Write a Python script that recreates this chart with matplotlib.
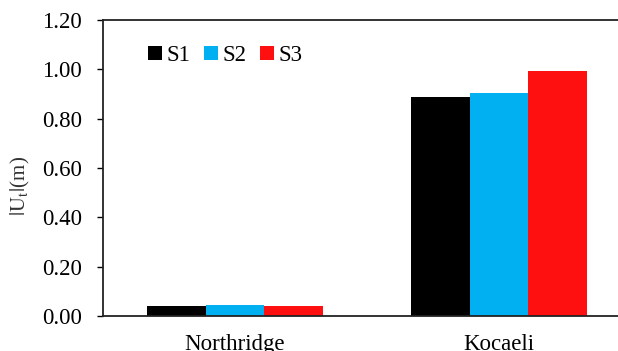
import numpy as np
import matplotlib.pyplot as plt

# peak displacement per record and scheme
events = ["Northridge", "Kocaeli"]
series = ["S1", "S2", "S3"]
s1_vals = [0.041, 0.886]
s2_vals = [0.046, 0.905]
s3_vals = [0.041, 0.992]
colors = ["#000000", "#00B0F0", "#FF1010"]

plt.rcParams['font.family'] = ['Liberation Serif', 'DejaVu Serif']
plt.rcParams['mathtext.fontset'] = 'stix'

fig = plt.figure(figsize=(6.18, 3.51), dpi=100)
ax = fig.add_axes([103 / 618, 35 / 351, 528 / 618, 296 / 351])

x = np.arange(len(events))
width = 0.223
for i, (name, vals) in enumerate(zip(series, [s1_vals, s2_vals, s3_vals])):
    ax.bar(x + (i - 1) * width, vals, width, color=colors[i], label=name)

ax.set_xlim(-0.5, 1.5)
ax.set_ylim(0, 1.2)
ax.set_yticks(np.arange(0, 1.21, 0.2))
ax.set_yticklabels([f"{v:.2f}" for v in np.arange(0, 1.21, 0.2)])
ax.set_xticks(x)
ax.set_xticklabels(events)
ax.tick_params(axis='x', length=0, pad=13, labelsize=16.5)
ax.tick_params(axis='y', direction='out', length=4, width=1, pad=11, labelsize=16.5)

for side in ['left', 'bottom', 'top', 'right']:
    ax.spines[side].set_linewidth(1.3)
    ax.spines[side].set_color('#222222')

ax.set_ylabel(r"$|\mathrm{U_t}|$(m)", fontsize=15, color='#333333')
ax.yaxis.set_label_coords(-0.134, 0.44)

ax.legend(loc='upper left', bbox_to_anchor=(0.047, 0.985), ncol=3, frameon=False,
          fontsize=16.5, handlelength=0.6, handleheight=0.6, handletextpad=0.2,
          columnspacing=0.6)

fig.savefig("out.png", dpi=100)
